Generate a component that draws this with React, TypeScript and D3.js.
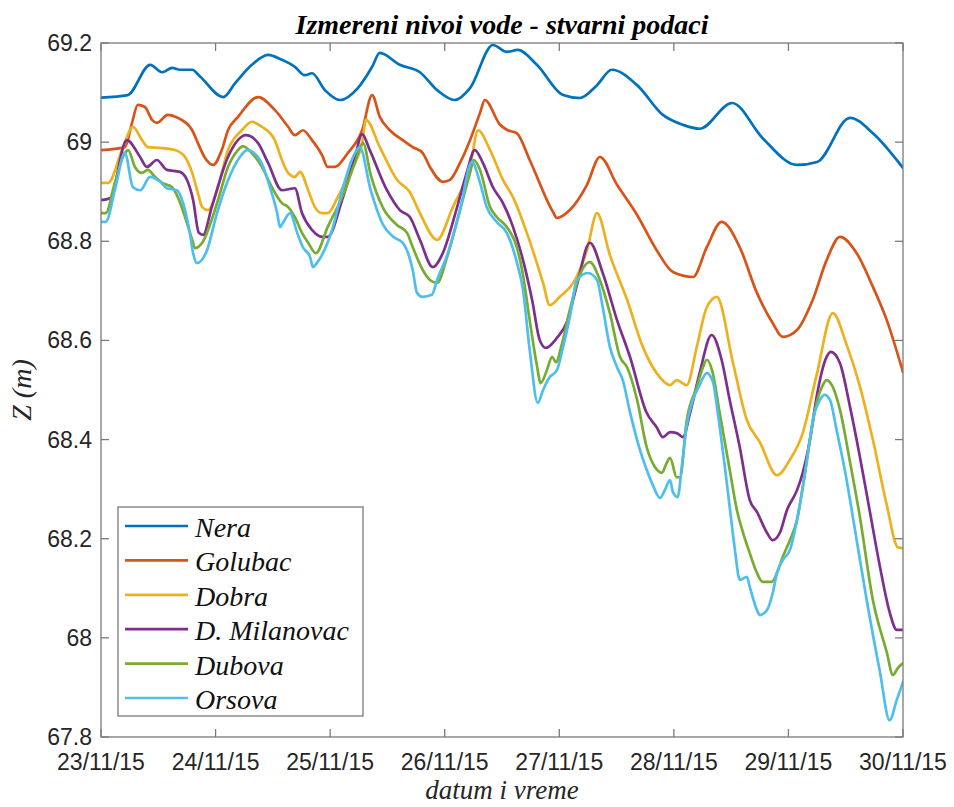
import React from 'react';
import * as d3 from 'd3';

// Measured water levels (m) along the Danube, 23/11/15 – 30/11/15.
// Each point: [hours since 23/11/15 00:00, level in m].
const nera: [number, number][] = [
  [0, 69.090], [5.6, 69.095], [10.3, 69.156], [12.8, 69.141], [14.9, 69.150], [16.5, 69.146],
  [19.1, 69.146], [20.7, 69.133], [25.6, 69.091], [28.1, 69.119], [31.6, 69.156], [35.0, 69.176],
  [37.9, 69.166], [40.6, 69.152], [42.7, 69.135], [44.2, 69.139], [46.9, 69.105], [50.1, 69.085],
  [53.8, 69.109], [56.8, 69.152], [58.4, 69.180], [62.6, 69.156], [66.8, 69.141], [70.4, 69.105],
  [74.1, 69.085], [77.3, 69.109], [82.1, 69.196], [85.0, 69.182], [87.3, 69.186], [91.3, 69.156],
  [96.8, 69.095], [100.3, 69.089], [103.9, 69.115], [107.0, 69.146], [112.3, 69.115], [117.7, 69.055],
  [121.9, 69.035], [125.4, 69.027], [132.2, 69.079], [138.6, 69.008], [145.8, 68.954], [150.0, 68.960],
  [156.9, 69.049], [161.7, 69.018], [168, 68.948],
];

const golubac: [number, number][] = [
  [0, 68.984], [5.0, 68.990], [6.5, 69.039], [7.7, 69.075], [9.2, 69.071], [10.7, 69.045],
  [11.7, 69.039], [14.0, 69.055], [16.1, 69.049], [19.1, 69.024], [20.3, 68.998], [21.8, 68.968],
  [23.5, 68.954], [25.3, 68.984], [26.6, 69.024], [28.7, 69.051], [32.9, 69.091], [36.4, 69.065],
  [39.2, 69.031], [40.6, 69.014], [42.3, 69.024], [44.2, 69.004], [46.3, 68.974], [47.5, 68.950],
  [49.0, 68.950], [51.7, 68.978], [54.7, 69.024], [56.8, 69.095], [58.4, 69.051], [60.5, 69.024],
  [63.2, 69.004], [65.3, 68.990], [67.4, 68.978], [68.9, 68.950], [71.6, 68.920], [73.1, 68.924],
  [75.2, 68.958], [77.3, 69.004], [79.4, 69.059], [80.4, 69.085], [83.6, 69.035], [85.2, 69.024],
  [87.1, 69.018], [89.8, 68.964], [94.7, 68.859], [95.5, 68.847], [98.2, 68.863], [101.8, 68.914],
  [104.5, 68.970], [108.1, 68.914], [112.3, 68.853], [116.4, 68.782], [119.8, 68.738], [124.0, 68.728],
  [126.9, 68.788], [130.0, 68.839], [133.8, 68.788], [137.4, 68.696], [140.7, 68.635], [142.8, 68.607],
  [145.8, 68.621], [149.1, 68.682], [152.0, 68.762], [154.8, 68.809], [158.3, 68.776], [161.7, 68.708],
  [164.6, 68.641], [168, 68.536],
];

const dobra: [number, number][] = [
  [0, 68.918], [1.5, 68.918], [4.4, 68.984], [6.7, 69.031], [8.6, 69.004], [9.8, 68.990],
  [12.8, 68.988], [15.5, 68.984], [17.6, 68.970], [19.1, 68.938], [20.3, 68.897], [21.2, 68.869],
  [22.4, 68.863], [24.5, 68.909], [26.6, 68.984], [29.5, 69.024], [31.6, 69.041], [33.7, 69.031],
  [36.4, 69.004], [37.9, 68.964], [39.2, 68.938], [40.6, 68.930], [41.7, 68.940], [43.4, 68.903],
  [44.8, 68.869], [46.3, 68.857], [47.5, 68.857], [49.6, 68.889], [52.6, 68.950], [54.7, 68.998],
  [55.5, 69.045], [58.4, 68.990], [62.0, 68.924], [64.7, 68.899], [66.8, 68.857], [70.4, 68.803],
  [73.7, 68.869], [77.3, 68.950], [79.0, 69.024], [81.5, 68.984], [84.2, 68.924], [86.3, 68.889],
  [89.2, 68.817], [92.6, 68.716], [94.0, 68.671], [96.1, 68.688], [99.3, 68.722], [101.8, 68.782],
  [103.9, 68.857], [106.6, 68.772], [110.2, 68.682], [113.5, 68.587], [116.4, 68.534], [119.2, 68.510],
  [120.6, 68.520], [122.7, 68.510], [124.8, 68.587], [126.9, 68.667], [129.0, 68.688], [132.4, 68.554],
  [135.3, 68.439], [138.0, 68.395], [141.6, 68.328], [144.3, 68.359], [147.0, 68.413], [149.9, 68.530],
  [153.3, 68.655], [156.2, 68.591], [158.9, 68.510], [161.7, 68.399], [164.6, 68.268], [166.9, 68.183],
  [168, 68.181],
];

const milanovac: [number, number][] = [
  [0, 68.883], [1.9, 68.887], [5.4, 69.004], [8.2, 68.970], [9.6, 68.950], [11.7, 68.964],
  [13.8, 68.944], [16.5, 68.940], [18.0, 68.924], [19.3, 68.883], [20.5, 68.817], [21.4, 68.813],
  [23.2, 68.869], [26.6, 68.970], [30.4, 69.014], [32.9, 68.998], [35.0, 68.958], [37.9, 68.903],
  [40.6, 68.907], [42.1, 68.857], [44.2, 68.823], [46.3, 68.809], [47.5, 68.809], [50.5, 68.883],
  [53.2, 68.970], [54.7, 69.016], [56.3, 68.984], [59.9, 68.903], [62.6, 68.863], [64.7, 68.849],
  [66.8, 68.803], [69.5, 68.748], [71.6, 68.776], [74.6, 68.869], [76.6, 68.938], [78.3, 68.984],
  [80.0, 68.958], [82.1, 68.909], [84.2, 68.877], [86.3, 68.829], [88.4, 68.762], [90.3, 68.682],
  [91.9, 68.601], [93.2, 68.585], [95.5, 68.605], [97.6, 68.637], [99.7, 68.712], [102.4, 68.797],
  [105.1, 68.736], [108.1, 68.641], [110.8, 68.567], [114.3, 68.454], [116.4, 68.425], [117.7, 68.405],
  [119.2, 68.415], [120.6, 68.413], [121.9, 68.405], [123.4, 68.454], [125.4, 68.534], [127.9, 68.611],
  [130.0, 68.561], [131.7, 68.480], [133.8, 68.385], [135.9, 68.278], [137.4, 68.254], [139.5, 68.212],
  [140.7, 68.197], [142.2, 68.212], [143.7, 68.258], [145.8, 68.298], [147.0, 68.333], [148.5, 68.399],
  [149.9, 68.486], [152.0, 68.567], [152.9, 68.577], [154.8, 68.554], [156.9, 68.466], [158.9, 68.369],
  [161.0, 68.258], [163.1, 68.147], [165.2, 68.052], [166.7, 68.016], [168, 68.016],
];

const dubova: [number, number][] = [
  [0, 68.857], [1.0, 68.857], [2.9, 68.918], [5.0, 68.978], [5.7, 68.984], [7.1, 68.950],
  [8.6, 68.938], [9.8, 68.944], [11.3, 68.930], [12.8, 68.918], [14.9, 68.909], [16.1, 68.889],
  [17.6, 68.849], [19.1, 68.803], [19.7, 68.786], [21.2, 68.797], [24.5, 68.883], [26.6, 68.950],
  [28.7, 68.984], [29.7, 68.992], [31.6, 68.978], [33.7, 68.950], [35.8, 68.909], [37.9, 68.877],
  [39.2, 68.869], [40.6, 68.849], [42.1, 68.817], [43.4, 68.797], [45.0, 68.776], [47.5, 68.829],
  [50.5, 68.889], [53.2, 68.958], [54.9, 68.998], [56.5, 68.934], [59.1, 68.867], [62.0, 68.833],
  [64.1, 68.817], [65.3, 68.788], [67.4, 68.742], [68.9, 68.722], [70.4, 68.716], [72.5, 68.768],
  [75.2, 68.863], [77.3, 68.938], [78.1, 68.964], [79.4, 68.944], [81.5, 68.869], [82.9, 68.849],
  [85.0, 68.829], [87.1, 68.788], [88.4, 68.732], [89.8, 68.641], [91.3, 68.550], [92.1, 68.514],
  [93.4, 68.540], [94.5, 68.567], [95.3, 68.556], [96.5, 68.591], [98.2, 68.661], [99.9, 68.722],
  [102.4, 68.758], [104.5, 68.722], [106.6, 68.655], [108.7, 68.567], [110.2, 68.546], [112.3, 68.480],
  [114.3, 68.385], [116.0, 68.345], [117.5, 68.333], [118.5, 68.353], [119.2, 68.363], [120.6, 68.324],
  [121.3, 68.324], [122.7, 68.439], [124.8, 68.506], [126.1, 68.546], [126.9, 68.561], [128.0, 68.540],
  [129.6, 68.454], [131.7, 68.339], [133.2, 68.258], [134.5, 68.212], [135.9, 68.171], [137.4, 68.131],
  [138.6, 68.113], [140.5, 68.113], [141.6, 68.131], [142.8, 68.163], [144.3, 68.197], [145.8, 68.238],
  [147.0, 68.304], [148.5, 68.399], [149.9, 68.474], [151.0, 68.506], [152.0, 68.520], [153.3, 68.506],
  [154.8, 68.460], [156.9, 68.355], [158.9, 68.248], [161.7, 68.076], [164.6, 67.971], [165.9, 67.925],
  [166.9, 67.939], [168, 67.949],
];

const orsova: [number, number][] = [
  [0, 68.839], [1.0, 68.839], [2.9, 68.903], [5.0, 68.978], [6.7, 68.909], [8.2, 68.903],
  [10.3, 68.930], [12.4, 68.920], [13.8, 68.907], [15.9, 68.903], [17.2, 68.877], [18.6, 68.817],
  [19.3, 68.776], [20.1, 68.756], [22.2, 68.782], [24.3, 68.857], [26.4, 68.918], [29.1, 68.970],
  [30.6, 68.984], [33.3, 68.964], [35.4, 68.909], [36.9, 68.857], [37.5, 68.829], [38.1, 68.837],
  [39.6, 68.857], [41.1, 68.817], [42.3, 68.788], [43.8, 68.768], [44.4, 68.748], [45.2, 68.756],
  [46.5, 68.776], [48.6, 68.829], [50.7, 68.909], [52.8, 68.970], [54.2, 68.990], [56.5, 68.903],
  [59.1, 68.833], [61.2, 68.809], [63.2, 68.797], [65.3, 68.742], [66.2, 68.696], [67.4, 68.688],
  [69.3, 68.692], [70.4, 68.722], [72.5, 68.772], [75.2, 68.863], [77.7, 68.960], [79.4, 68.918],
  [80.8, 68.869], [82.9, 68.839], [85.0, 68.817], [87.1, 68.758], [88.4, 68.702], [89.8, 68.581],
  [91.5, 68.474], [92.6, 68.500], [94.0, 68.526], [95.5, 68.540], [96.8, 68.587], [98.2, 68.647],
  [99.7, 68.722], [102.0, 68.736], [103.9, 68.722], [105.1, 68.667], [106.6, 68.587], [108.1, 68.546],
  [109.3, 68.520], [110.8, 68.456], [112.9, 68.379], [114.3, 68.339], [115.6, 68.308], [117.1, 68.282],
  [118.1, 68.298], [119.2, 68.318], [119.8, 68.294], [120.8, 68.284], [121.7, 68.349], [122.7, 68.429],
  [124.0, 68.480], [125.4, 68.510], [126.9, 68.534], [128.2, 68.516], [129.2, 68.454], [130.5, 68.359],
  [131.7, 68.264], [132.8, 68.177], [133.8, 68.117], [135.3, 68.123], [135.9, 68.103], [137.4, 68.056],
  [138.0, 68.046], [139.5, 68.056], [140.7, 68.090], [141.6, 68.131], [142.8, 68.157], [144.3, 68.177],
  [145.8, 68.238], [147.9, 68.359], [149.1, 68.439], [150.6, 68.480], [151.6, 68.490], [152.7, 68.480],
  [154.1, 68.419], [155.8, 68.339], [158.3, 68.197], [160.4, 68.076], [163.1, 67.935], [165.2, 67.834],
  [166.7, 67.875], [168, 67.911],
];

const stationNames = ['Nera', 'Golubac', 'Dobra', 'D. Milanovac', 'Dubova', 'Orsova'];
const stationSeries = [nera, golubac, dobra, milanovac, dubova, orsova];
const stationColors = ['#0072BD', '#D95319', '#EDB120', '#7E2F8E', '#77AC30', '#4DBEEE'];

const levelTicks = [67.8, 68, 68.2, 68.4, 68.6, 68.8, 69, 69.2];
const dayCount = 7;

const titleText = 'Izmereni nivoi vode - stvarni podaci';
const xLabelText = 'datum i vreme';
const yLabelText = 'Z (m)';

const W = 954;
const H = 807;
const plot = { left: 101, right: 903, top: 43, bottom: 737 };

const start = new Date(2015, 10, 23, 0, 0, 0);
const atHour = (h: number) => new Date(start.getTime() + h * 3600 * 1000);

export default function App() {
  const x = d3
    .scaleTime()
    .domain([start, atHour(dayCount * 24)])
    .range([plot.left, plot.right]);
  const y = d3.scaleLinear().domain([67.8, 69.2]).range([plot.bottom, plot.top]);

  const line = d3
    .line<[number, number]>()
    .x((d) => x(atHour(d[0])))
    .y((d) => y(d[1]))
    .curve(d3.curveMonotoneX);

  const dayTicks = d3.timeDay.range(start, d3.timeDay.offset(start, dayCount + 1));
  const fmtDay = d3.timeFormat('%d/%m/%y');

  const axisColor = '#7a7a7a';
  const labelColor = '#262626';
  const tickLen = 8;
  const sans = "'Liberation Sans', Arial, Helvetica, sans-serif";
  const serif = "'Liberation Serif', 'Times New Roman', Times, serif";

  const legend = { x: 118, y: 507, w: 245, h: 209, rowStart: 526, rowStep: 34.4 };

  return (
    <svg
      width={W}
      height={H}
      viewBox={`0 0 ${W} ${H}`}
      style={{ position: 'absolute', left: 0, top: 0, background: '#ffffff' }}
    >
      <rect x={0} y={0} width={W} height={H} fill="#ffffff" />
      <defs>
        <clipPath id="plot-clip">
          <rect
            x={plot.left}
            y={plot.top}
            width={plot.right - plot.left}
            height={plot.bottom - plot.top}
          />
        </clipPath>
      </defs>

      {/* data lines */}
      <g clipPath="url(#plot-clip)">
        {stationSeries.map((s, i) => (
          <path
            key={stationNames[i]}
            d={line(s) ?? ''}
            fill="none"
            stroke={stationColors[i]}
            strokeWidth={2.7}
            strokeLinejoin="round"
            strokeLinecap="round"
          />
        ))}
      </g>

      {/* axes box */}
      <rect
        x={plot.left}
        y={plot.top}
        width={plot.right - plot.left}
        height={plot.bottom - plot.top}
        fill="none"
        stroke={axisColor}
        strokeWidth={1.3}
      />

      {/* y ticks */}
      {levelTicks.map((v) => (
        <g key={`y${v}`}>
          <line x1={plot.left} x2={plot.left + tickLen} y1={y(v)} y2={y(v)} stroke={axisColor} strokeWidth={1.3} />
          <line x1={plot.right} x2={plot.right - tickLen} y1={y(v)} y2={y(v)} stroke={axisColor} strokeWidth={1.3} />
          <text
            x={plot.left - 9}
            y={y(v) + 8}
            textAnchor="end"
            fontFamily={sans}
            fontSize={23}
            fill={labelColor}
          >
            {String(+v.toFixed(1))}
          </text>
        </g>
      ))}

      {/* x ticks */}
      {dayTicks.map((d) => (
        <g key={`x${d.getTime()}`}>
          <line x1={x(d)} x2={x(d)} y1={plot.bottom} y2={plot.bottom - tickLen} stroke={axisColor} strokeWidth={1.3} />
          <line x1={x(d)} x2={x(d)} y1={plot.top} y2={plot.top + tickLen} stroke={axisColor} strokeWidth={1.3} />
          <text x={x(d)} y={770} textAnchor="middle" fontFamily={sans} fontSize={23} fill={labelColor}>
            {fmtDay(d)}
          </text>
        </g>
      ))}

      {/* title and axis labels */}
      <text
        x={(plot.left + plot.right) / 2}
        y={34}
        textAnchor="middle"
        fontFamily={serif}
        fontStyle="italic"
        fontWeight="bold"
        fontSize={28}
        fill="#000000"
      >
        {titleText}
      </text>
      <text
        x={(plot.left + plot.right) / 2}
        y={799}
        textAnchor="middle"
        fontFamily={serif}
        fontStyle="italic"
        fontSize={27}
        fill={labelColor}
      >
        {xLabelText}
      </text>
      <text
        transform={`translate(31, ${(plot.top + plot.bottom) / 2}) rotate(-90)`}
        textAnchor="middle"
        fontFamily={serif}
        fontStyle="italic"
        fontSize={28}
        fill={labelColor}
      >
        {yLabelText}
      </text>

      {/* legend */}
      <g>
        <rect
          x={legend.x}
          y={legend.y}
          width={legend.w}
          height={legend.h}
          fill="#ffffff"
          stroke={axisColor}
          strokeWidth={1.3}
        />
        {stationNames.map((name, i) => {
          const ry = legend.rowStart + i * legend.rowStep;
          return (
            <g key={`lg${name}`}>
              <line x1={125} x2={188} y1={ry} y2={ry} stroke={stationColors[i]} strokeWidth={2.7} />
              <text x={195} y={ry + 11} fontFamily={serif} fontStyle="italic" fontSize={28} fill="#111111">
                {name}
              </text>
            </g>
          );
        })}
      </g>
    </svg>
  );
}
